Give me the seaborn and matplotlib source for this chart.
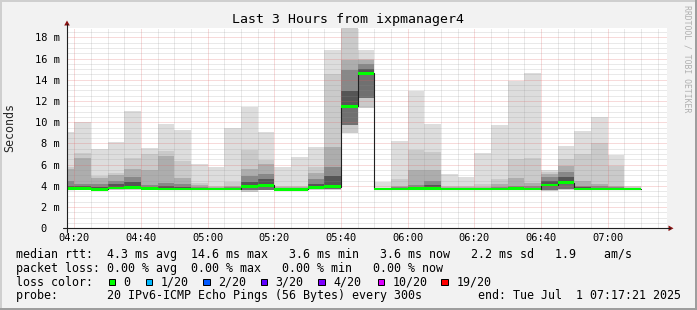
import matplotlib
matplotlib.use("Agg")
import matplotlib.pyplot as plt
from matplotlib.patches import Rectangle, Polygon
from matplotlib.lines import Line2D
from matplotlib.ticker import FixedLocator, MultipleLocator
import numpy as np
import pandas as pd
import seaborn as sns

# ---------------- data ----------------
bar_times = ["04:15", "04:20", "04:25", "04:30", "04:35", "04:40", "04:45",
             "04:50", "04:55", "05:00", "05:05", "05:10", "05:15", "05:20",
             "05:25", "05:30", "05:35", "05:40", "05:45", "05:50", "05:55",
             "06:00", "06:05", "06:10", "06:15", "06:20", "06:25", "06:30",
             "06:35", "06:40", "06:45", "06:50", "06:55", "07:00", "07:05"]

# ms, sorted ping ranks per 5-minute step (20 pings)
ping_max = [9.05, 10.0, 7.5, 8.15, 11.05, 7.6, 9.85, 9.3, 6.05, 5.8, 9.5, 11.45,
            9.05, 5.75, 6.7, 7.65, 16.8, 21.0, 16.8, 4.4, 8.25, 12.95, 9.85, 5.1,
            4.85, 7.1, 9.75, 13.9, 14.6, 5.5, 7.78, 9.15, 10.45, 6.95, 4.0]
ping_p19 = [5.8, 7.1, 4.9, 5.25, 6.6, 7.0, 7.3, 6.3, 4.3, 4.0, 4.35, 7.4,
            6.4, 3.95, 3.95, 5.8, 14.5, 19.5, 16.0, 3.8, 4.65, 7.4, 7.2, 4.0,
            3.95, 4.2, 4.6, 6.5, 6.6, 5.3, 6.5, 7.0, 8.05, 5.85, 3.85]
ping_p18 = [5.6, 6.65, 4.7, 5.05, 5.6, 5.5, 6.85, 4.75, 4.1, 3.9, 4.0, 5.6,
            6.1, 3.85, 3.85, 5.2, 7.7, 15.9, 15.85, 3.78, 4.0, 5.5, 5.5, 3.85,
            3.85, 3.9, 4.2, 4.7, 4.25, 5.1, 5.9, 4.5, 4.2, 4.0, 3.8]
ping_p16 = [4.5, 4.2, 4.2, 4.5, 4.87, 4.1, 4.3, 4.2, 3.9, 3.82, 3.85, 4.9,
            5.1, 3.8, 3.8, 4.6, 5.8, 14.9, 15.5, 3.76, 3.9, 4.1, 4.45, 3.8,
            3.8, 3.82, 3.9, 4.0, 3.95, 4.85, 5.3, 4.0, 3.95, 3.85, 3.78]
ping_p14 = [4.0, 3.95, 3.9, 4.2, 4.35, 3.9, 3.95, 3.9, 3.8, 3.78, 3.8, 4.4,
            4.6, 3.76, 3.76, 4.2, 4.9, 12.9, 15.0, 3.74, 3.82, 3.9, 4.1, 3.77,
            3.77, 3.78, 3.8, 3.85, 3.82, 4.5, 4.8, 3.85, 3.82, 3.78, 3.75]
median_rtt = [3.75, 3.77, 3.68, 3.82, 3.87, 3.76, 3.72, 3.72, 3.72, 3.72, 3.72, 3.96,
              4.05, 3.68, 3.68, 3.85, 3.92, 11.5, 14.6, 3.7, 3.72, 3.75, 3.75, 3.72,
              3.72, 3.72, 3.72, 3.73, 3.72, 4.08, 4.3, 3.72, 3.72, 3.72, 3.7]
ping_p4 = [3.68, 3.68, 3.63, 3.72, 3.75, 3.68, 3.66, 3.66, 3.66, 3.66, 3.66, 3.6,
           3.65, 3.62, 3.62, 3.7, 3.72, 9.7, 12.3, 3.65, 3.66, 3.68, 3.68, 3.66,
           3.66, 3.66, 3.66, 3.66, 3.66, 3.62, 3.75, 3.66, 3.66, 3.66, 3.65]
ping_min = [3.6, 3.6, 3.58, 3.62, 3.62, 3.6, 3.6, 3.6, 3.6, 3.6, 3.6, 3.45,
            3.58, 3.56, 3.56, 3.6, 3.6, 8.95, 11.3, 3.6, 3.6, 3.6, 3.6, 3.6,
            3.6, 3.6, 3.6, 3.6, 3.6, 3.55, 3.6, 3.6, 3.6, 3.6, 3.6]

x_tick_labels = ["04:20", "04:40", "05:00", "05:20", "05:40", "06:00", "06:20", "06:40", "07:00"]
y_tick_values = [0, 2, 4, 6, 8, 10, 12, 14, 16, 18]
y_tick_labels = ["0\u00a0\u00a0", "2 m", "4 m", "6 m", "8 m", "10 m", "12 m", "14 m", "16 m", "18 m"]

loss_labels = ["0", "1/20", "2/20", "3/20", "4/20", "10/20", "19/20"]
loss_colors = ["#00ff00", "#00b8ff", "#0059ff", "#5e00ff", "#7e00ff", "#dd00ff", "#ff0000"]

title = "Last 3 Hours from ixpmanager4"
legend_rtt = "median rtt:  4.3 ms avg  14.6 ms max   3.6 ms min   3.6 ms now   2.2 ms sd   1.9    am/s"
legend_loss = "packet loss: 0.00 % avg  0.00 % max   0.00 % min   0.00 % now"
legend_color = "loss color:"
legend_probe = "probe:       20 IPv6-ICMP Echo Pings (56 Bytes) every 300s        end: Tue Jul  1 07:17:21 2025"

# ---------------- style ----------------
sns.set_theme(style="white")
plt.rcParams['font.family'] = ['DejaVu Sans Mono', 'DejaVu Sans']

W, H = 697, 310
BACK = "#f2f2f2"
fig = plt.figure(figsize=(W / 100, H / 100), dpi=100)
fig.patch.set_facecolor(BACK)


def fx(x):
    return x / W


def fy(y):
    return 1 - y / H


ax = fig.add_axes([fx(67), fy(228.3), 600 / W, 200.3 / H])
ax.set_facecolor("white")

t0 = pd.Timestamp("2025-07-01 04:20")
xs = np.array([(pd.Timestamp("2025-07-01 " + t) - t0).total_seconds() / 60 for t in bar_times])
step = 5.0

layers = [
    (ping_p19, ping_max, "#dddddd"),
    (ping_p18, ping_p19, "#cacaca"),
    (ping_p16, ping_p18, "#adadad"),
    (ping_p14, ping_p16, "#888888"),
    (median_rtt, ping_p14, "#555555"),
    (ping_p4, median_rtt, "#707070"),
    (ping_min, ping_p4, "#cacaca"),
]
for lo, hi, col in layers:
    lo = np.array(lo)
    hi = np.array(hi)
    ax.bar(xs, hi - lo, bottom=lo, width=step, align="edge", color=col,
           linewidth=0, antialiased=False, zorder=1)

# black median line
med = np.array(median_rtt)
line_df = pd.DataFrame({"t": np.append(xs, xs[-1] + step), "rtt": np.append(med, med[-1])})
sns.lineplot(data=line_df, x="t", y="rtt", ax=ax, color="#202020", lw=0.8,
             drawstyle="steps-post", estimator=None, zorder=3)

# green median band (loss 0)
sw = 0.12
ax.bar(xs, 2 * sw, bottom=med - sw, width=step, align="edge", color=loss_colors[0],
       linewidth=0, antialiased=False, zorder=4)

ax.set_xlim(-2.2, 177.8)
ax.set_ylim(0, 18.88)
ax.set_xlabel("")
ax.set_ylabel("")
for s in ax.spines.values():
    s.set_visible(False)

ax.xaxis.set_major_locator(FixedLocator(list(range(0, 161, 20))))
ax.set_xticklabels(x_tick_labels)
ax.xaxis.set_minor_locator(MultipleLocator(5))
ax.yaxis.set_major_locator(FixedLocator(y_tick_values))
ax.set_yticklabels(y_tick_labels)
ax.yaxis.set_minor_locator(MultipleLocator(0.5))

ax.set_axisbelow(False)
ax.grid(which="major", color="#e06060", alpha=0.45, lw=0.72, linestyle=(0, (1, 1)))
ax.grid(which="minor", color="#8f8f8f", alpha=0.38, lw=0.72, linestyle=(0, (1, 1)))
ax.tick_params(which="major", length=2.2, width=0.72, color="#202020", labelsize=7.5,
               labelcolor="black")
ax.tick_params(axis="y", which="major", pad=2.9)
ax.tick_params(axis="x", which="major", pad=1.0)
ax.tick_params(which="minor", length=1.2, width=0.72, color="#202020")

# axis lines and arrows (figure pixel coordinates)
fig.add_artist(Line2D([fx(63), fx(670)], [fy(228.3), fy(228.3)], color="#202020", lw=0.8))
fig.add_artist(Line2D([fx(67), fx(67)], [fy(232), fy(24)], color="#202020", lw=0.8))
ARROW = "#8b1010"
fig.add_artist(Polygon([[fx(64.2), fy(25.5)], [fx(69.8), fy(25.5)], [fx(67), fy(20.5)]],
                       closed=True, color=ARROW, lw=0))
fig.add_artist(Polygon([[fx(668.5), fy(225.5)], [fx(668.5), fy(231.1)], [fx(673.5), fy(228.3)]],
                       closed=True, color=ARROW, lw=0))

# frame shading
fig.add_artist(Rectangle((0, fy(2)), 1, 2 / H, color="#cfcfcf", lw=0))
fig.add_artist(Rectangle((0, 0), 2 / W, 1, color="#cfcfcf", lw=0))
fig.add_artist(Rectangle((0, 0), 1, 2 / H, color="#9e9e9e", lw=0))
fig.add_artist(Rectangle((fx(695), 0), 2 / W, 1, color="#9e9e9e", lw=0))

# title, y label, watermark
fig.text(0.5, fy(20), title, ha="center", va="center", fontsize=9.5, color="black")
fig.text(fx(10), fy(127), "Seconds", rotation=90, ha="center", va="center", fontsize=8.4)
fig.text(fx(686.5), fy(5), "RRDTOOL / TOBI OETIKER", rotation=270, ha="center", va="top",
         fontsize=5.9, color="#b0b0b0")

# legend block
LF = 8.4
for yy, s in [(254.7, legend_rtt), (268.3, legend_loss), (282.0, legend_color),
              (295.8, legend_probe)]:
    fig.text(fx(16), fy(yy), s, ha="left", va="center", fontsize=LF, color="black")

sq_x = [108.7, 145.7, 203.3, 260.7, 318.3, 378.0, 441.3]
lab_x = [123.3, 160.3, 218.0, 275.7, 333.0, 392.3, 456.7]
for sx, lx, lab, col in zip(sq_x, lab_x, loss_labels, loss_colors):
    fig.add_artist(Rectangle((fx(sx), fy(285.0)), 6.5 / W, 6.5 / H, facecolor=col,
                             edgecolor="black", lw=0.72))
    fig.text(fx(lx), fy(282.0), lab, ha="left", va="center", fontsize=LF, color="black")

fig.savefig("out.png", dpi=100, facecolor=BACK)
